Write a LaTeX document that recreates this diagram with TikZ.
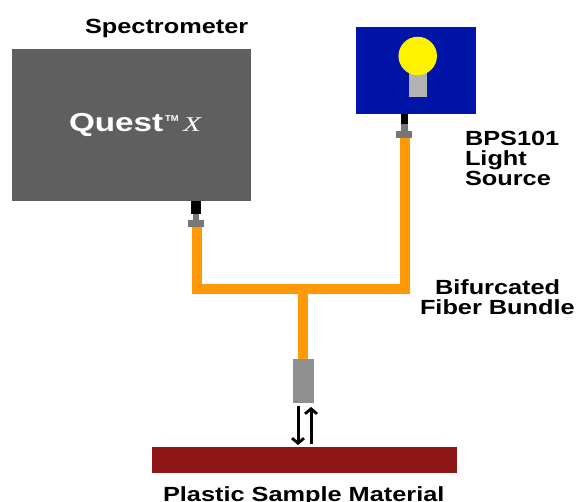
\documentclass[tikz,border=0pt]{standalone}
\usepackage{graphicx}
\usepackage{fontspec}
\setmainfont{Liberation Sans}
\newfontfamily\serifx{Liberation Serif}
\usetikzlibrary{arrows.meta}
\newcommand{\widetxt}[1]{\scalebox{1.235}[1]{#1}}
\definecolor{boxgray}{HTML}{5F5F5F}
\definecolor{srcblue}{HTML}{0014A8}
\definecolor{fiber}{HTML}{FF9908}
\definecolor{probegray}{HTML}{8F8F8F}
\definecolor{fitgray}{HTML}{777777}
\definecolor{basegray}{HTML}{B2B2B2}
\definecolor{sample}{HTML}{8F1616}
\definecolor{bulb}{HTML}{FFF200}
\tikzset{
  x=1pt,y=-1pt,
  part/.style={inner sep=0pt,outer sep=0pt,rectangle},
  lab/.style={inner sep=0pt,outer sep=0pt,font=\bfseries\fontsize{20.5}{20}\selectfont,text=black,align=left,anchor=base west},
  fiberline/.style={draw=fiber,line width=10pt,line cap=butt,line join=miter},
  ray/.style={draw=black,line width=3pt,-{Straight Barb[length=5pt,width=12pt,line width=2.8pt]}},
}
\begin{document}
\begin{tikzpicture}
\useasboundingbox (0,0) rectangle (576,502);
% instruments
\node[part,fill=boxgray,minimum width=239pt,minimum height=152pt,anchor=north west] (spec) at (12,49) {};
\node[part,fill=srcblue,minimum width=120pt,minimum height=87pt,anchor=north west] (src) at (356,27) {};
\node[part,fill=basegray,minimum width=18pt,minimum height=24pt,anchor=north] (base) at (417.5,73) {};
\node[circle,inner sep=0pt,outer sep=0pt,fill=bulb,minimum size=38.5pt] (lamp) at (417.7,56) {};
% fittings
\node[part,fill=black,minimum width=10pt,minimum height=13pt,anchor=north] (specblack) at (196,201) {};
\node[part,fill=fitgray,minimum width=6pt,minimum height=7pt,anchor=north] (specneck) at (196,214) {};
\node[part,fill=fitgray,minimum width=16pt,minimum height=7pt,anchor=north] (specfit) at (196,220) {};
\node[part,fill=black,minimum width=7pt,minimum height=11pt,anchor=north] (srcblack) at (404,114) {};
\node[part,fill=fitgray,minimum width=7pt,minimum height=8pt,anchor=north] (srcneck) at (404,124) {};
\node[part,fill=fitgray,minimum width=16pt,minimum height=7pt,anchor=north] (srcfit) at (404,131) {};
\node[part,fill=probegray,minimum width=21.5pt,minimum height=44pt,anchor=north] (probe) at (303.7,359) {};
\node[part,fill=sample,minimum width=305pt,minimum height=26pt,anchor=north west] (bar) at (152,447) {};
% fibre bundle
\coordinate (jl) at (197,289);
\coordinate (jr) at (404.5,289);
\coordinate (jm) at (303,289);
\draw[fiberline] ([xshift=1pt]specfit.south) -- (jl) -- (jr) -- ([xshift=.5pt]srcfit.south);
\draw[fiberline] (jm) -- (jm |- probe.north);
% arrows
\coordinate (downa) at (298,406);
\coordinate (downb) at (298,445);
\coordinate (upa) at (311,444);
\coordinate (upb) at (311,407);
\draw[ray] (downa) -- (downb);
\draw[ray] (upa) -- (upb);
% labels
\node[lab] (lspec) at (85,34) {\widetxt{Spectrometer}};
\node[lab,text=white,font=\bfseries\fontsize{26}{26}\selectfont] (lquest) at (69,132) {\scalebox{1.28}[1]{Quest}};
\node[inner sep=0pt,anchor=base west,text=white,font=\bfseries\fontsize{8.5}{8.5}\selectfont] (ltm) at (165,122) {\scalebox{1.1}[1]{TM}};
\node[inner sep=0pt,anchor=base west,text=white,font=\serifx\itshape\fontsize{21}{21}\selectfont] (lx) at (183,132) {\scalebox{1.4}[1]{X}};
\node[lab] (lsrc) at (465,186) {\widetxt{BPS101}\\\widetxt{Light}\\\widetxt{Source}};
\node[lab] (lfib) at (435,295) {\widetxt{Bifurcated}};
\node[lab] (lfib2) at (420,315) {\widetxt{Fiber Bundle}};
\node[lab] (lsam) at (163,501) {\widetxt{Plastic Sample Material}};
\end{tikzpicture}
\end{document}
